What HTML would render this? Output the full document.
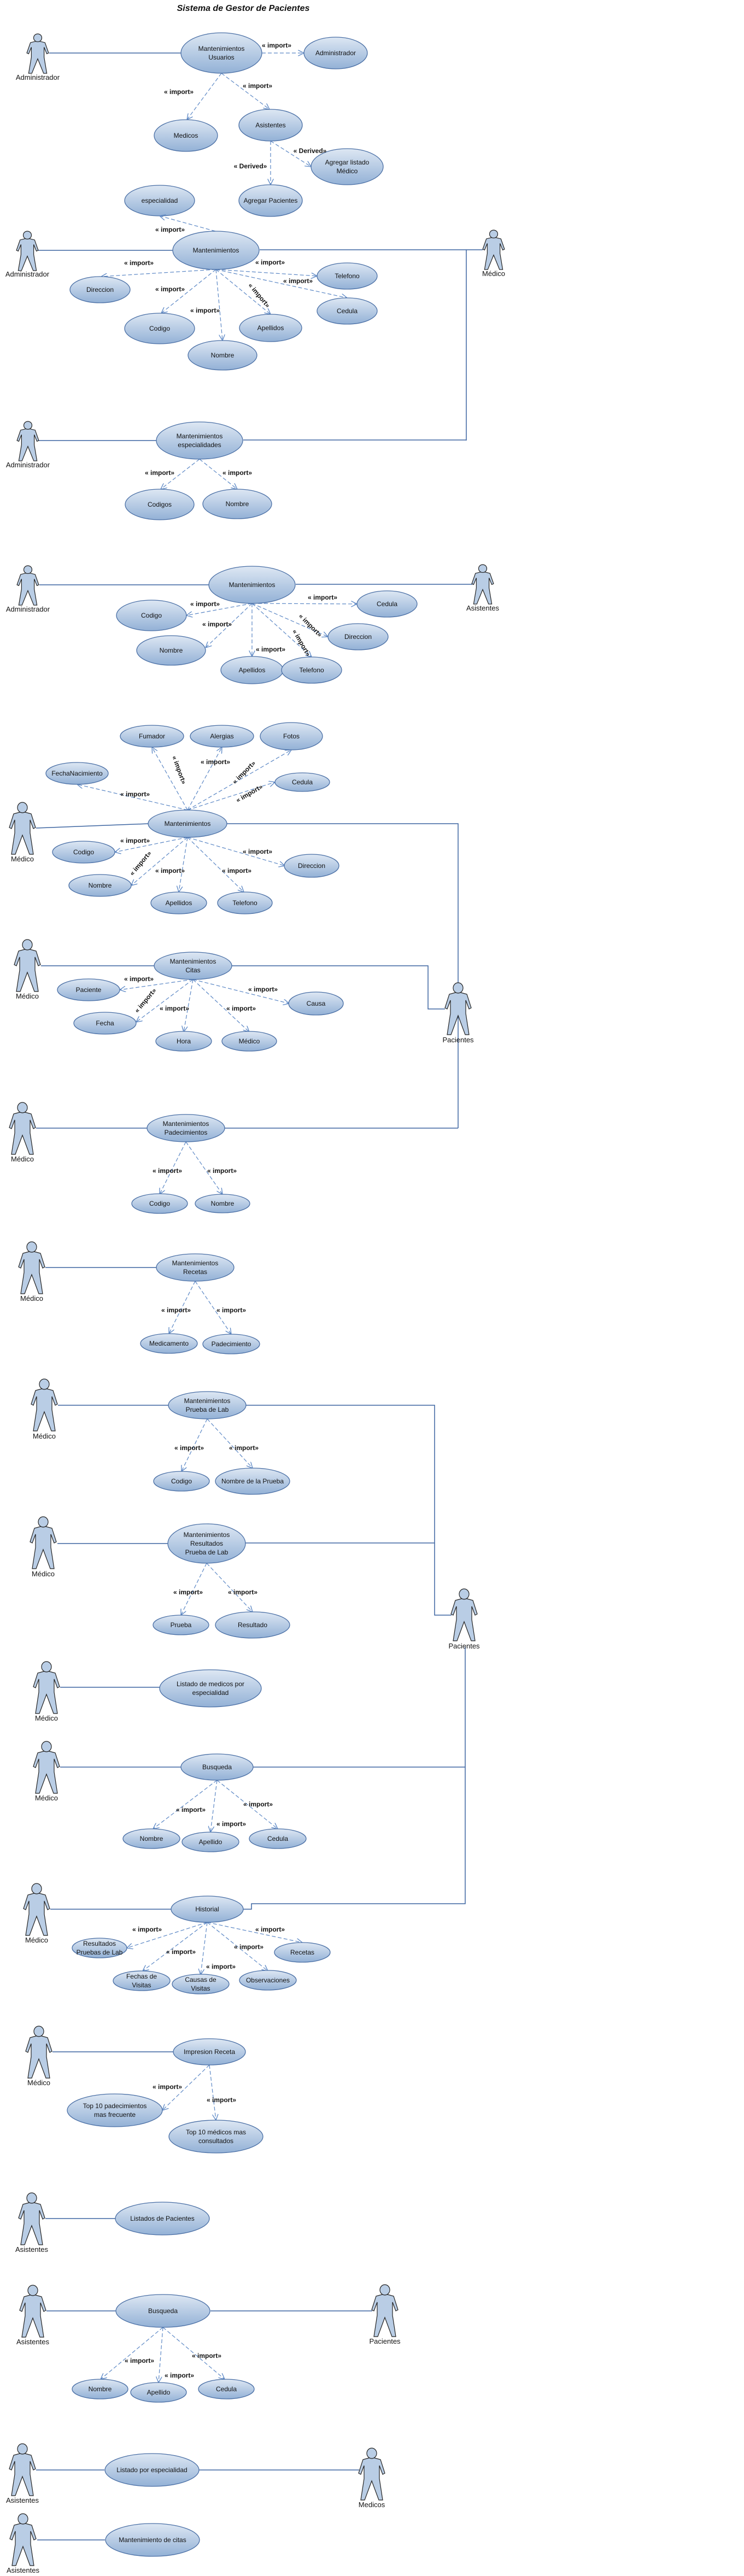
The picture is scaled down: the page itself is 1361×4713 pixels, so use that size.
<!DOCTYPE html>
<html><head><meta charset="utf-8"><style>
html,body{margin:0;padding:0;background:#fff;}
svg{display:block;}
.uc{fill:url(#g);stroke:#4a6fa5;stroke-width:1.3;}
.t{font-family:"Liberation Sans",Arial,sans-serif;font-size:12px;fill:#111;text-anchor:middle;}
.a{font-family:"Liberation Sans",Arial,sans-serif;font-size:13px;fill:#111;text-anchor:middle;}
.i{font-family:"Liberation Sans",Arial,sans-serif;font-size:12px;font-weight:bold;fill:#111;text-anchor:middle;}
.s{stroke:#3c64a0;stroke-width:1.5;fill:none;}
.d{stroke:#5b87c5;stroke-width:1.2;stroke-dasharray:7,4;fill:none;marker-end:url(#ar);}
</style></head><body>
<svg width="1361" height="4713" viewBox="0 0 1361 4713" xmlns="http://www.w3.org/2000/svg">
<defs>
<linearGradient id="g" x1="0" y1="0" x2="0" y2="1"><stop offset="0" stop-color="#dde7f3"/><stop offset="1" stop-color="#93b1d6"/></linearGradient>
<marker id="ar" viewBox="0 0 10 10" refX="10" refY="5" markerWidth="11" markerHeight="11" markerUnits="userSpaceOnUse" orient="auto"><path d="M0,0 L10,5 L0,10" fill="none" stroke="#5b87c5" stroke-width="1.2"/></marker>
<g id="act">
<polygon points="-5,18 5,18 16,21 24,46 20,48 14,32 14,56 20,95 13,95 0,60 -13,95 -20,95 -14,56 -14,32 -20,48 -24,46 -16,21" fill="#b9cde5" stroke="#222" stroke-width="1.2" vector-effect="non-scaling-stroke"/>
<ellipse cx="0" cy="9.5" rx="9" ry="9.5" fill="#b9cde5" stroke="#222" stroke-width="1.2" vector-effect="non-scaling-stroke"/>
</g>
</defs>

<text x="445" y="20" font-family="Liberation Sans, Arial, sans-serif" font-size="16" font-weight="bold" font-style="italic" text-anchor="middle" fill="#111">Sistema de Gestor de Pacientes</text>

<!-- S1 -->
<line class="s" x1="90" y1="97" x2="331" y2="97"/>
<use href="#act" transform="translate(69,62) scale(0.83,0.76)"/>
<text class="a" x="69" y="146">Administrador</text>
<path class="d" d="M479,97 L556,97"/><path class="d" d="M405,134 L342,219"/><path class="d" d="M405,134 L493,200"/><path class="d" d="M495,258 L495,338"/><path class="d" d="M495,258 L569,305"/>
<ellipse class="uc" cx="405" cy="97" rx="74" ry="37"/><text class="t" x="405" y="93">Mantenimientos</text><text class="t" x="405" y="109">Usuarios</text>
<ellipse class="uc" cx="614" cy="97" rx="58" ry="29"/><text class="t" x="614" y="101">Administrador</text>
<ellipse class="uc" cx="340" cy="248" rx="58" ry="29"/><text class="t" x="340" y="252">Medicos</text>
<ellipse class="uc" cx="495" cy="229" rx="58" ry="29"/><text class="t" x="495" y="233">Asistentes</text>
<ellipse class="uc" cx="635" cy="305" rx="66" ry="33"/><text class="t" x="635" y="301">Agregar listado</text><text class="t" x="635" y="317">Médico</text>
<ellipse class="uc" cx="495" cy="367" rx="58" ry="29"/><text class="t" x="495" y="371">Agregar Pacientes</text>
<ellipse class="uc" cx="292" cy="367" rx="64" ry="28"/><text class="t" x="292" y="371">especialidad</text>
<text class="i" x="506" y="87">« import»</text><text class="i" x="327" y="172">« import»</text><text class="i" x="471" y="161">« import»</text><text class="i" x="567" y="280">« Derived»</text><text class="i" x="458" y="308">« Derived»</text>

<!-- S2 -->
<line class="s" x1="70" y1="458" x2="316" y2="458"/>
<polyline class="s" points="475,457 883,457"/><line class="s" x1="853" y1="457" x2="853" y2="806"/>
<use href="#act" transform="translate(50,423) scale(0.83,0.76)"/><text class="a" x="50" y="506">Administrador</text>
<use href="#act" transform="translate(903,421) scale(0.83,0.76)"/><text class="a" x="903" y="505">Médico</text>
<path class="d" d="M394,423 L292,395"/>
<path class="d" d="M395,493 L185,506"/><path class="d" d="M395,493 L580,505"/><path class="d" d="M395,493 L635,545"/><path class="d" d="M395,493 L295,573"/><path class="d" d="M395,493 L495,575"/><path class="d" d="M395,493 L407,623"/>
<ellipse class="uc" cx="395" cy="458" rx="79" ry="35"/><text class="t" x="395" y="462">Mantenimientos</text>
<ellipse class="uc" cx="183" cy="530" rx="55" ry="24"/><text class="t" x="183" y="534">Direccion</text>
<ellipse class="uc" cx="635" cy="505" rx="55" ry="24"/><text class="t" x="635" y="509">Telefono</text>
<ellipse class="uc" cx="635" cy="569" rx="55" ry="24"/><text class="t" x="635" y="573">Cedula</text>
<ellipse class="uc" cx="292" cy="601" rx="64" ry="28"/><text class="t" x="292" y="605">Codigo</text>
<ellipse class="uc" cx="495" cy="600" rx="57" ry="25"/><text class="t" x="495" y="604">Apellidos</text>
<ellipse class="uc" cx="407" cy="650" rx="63" ry="27"/><text class="t" x="407" y="654">Nombre</text>
<text class="i" x="311" y="424">« import»</text><text class="i" x="254" y="485">« import»</text><text class="i" x="494" y="484">« import»</text><text class="i" x="545" y="518">« import»</text>
<text class="i" x="471" y="543" transform="rotate(50 471 543)">« import»</text><text class="i" x="311" y="533">« import»</text><text class="i" x="375" y="572">« import»</text>

<!-- S3 -->
<line class="s" x1="70" y1="806" x2="286" y2="806"/><line class="s" x1="445" y1="805" x2="853" y2="805"/>
<use href="#act" transform="translate(51,771) scale(0.83,0.76)"/><text class="a" x="51" y="855">Administrador</text>
<path class="d" d="M365,840 L294,895"/><path class="d" d="M365,840 L434,895"/>
<ellipse class="uc" cx="365" cy="806" rx="79" ry="34"/><text class="t" x="365" y="802">Mantenimientos</text><text class="t" x="365" y="818">especialidades</text>
<ellipse class="uc" cx="292" cy="923" rx="63" ry="28"/><text class="t" x="292" y="927">Codigos</text>
<ellipse class="uc" cx="434" cy="922" rx="63" ry="27"/><text class="t" x="434" y="926">Nombre</text>
<text class="i" x="292" y="869">« import»</text><text class="i" x="434" y="869">« import»</text>

<!-- S4 -->
<line class="s" x1="72" y1="1070" x2="382" y2="1070"/><line class="s" x1="541" y1="1069" x2="864" y2="1069"/>
<use href="#act" transform="translate(51,1035) scale(0.83,0.76)"/><text class="a" x="51" y="1119">Administrador</text>
<use href="#act" transform="translate(883,1033) scale(0.83,0.76)"/><text class="a" x="883" y="1117">Asistentes</text>
<path class="d" d="M461,1104 L653,1105"/><path class="d" d="M461,1104 L341,1126"/><path class="d" d="M461,1104 L376,1185"/><path class="d" d="M461,1104 L461,1201"/><path class="d" d="M461,1104 L570,1202"/><path class="d" d="M461,1104 L600,1165"/>
<ellipse class="uc" cx="461" cy="1070" rx="79" ry="34"/><text class="t" x="461" y="1074">Mantenimientos</text>
<ellipse class="uc" cx="708" cy="1105" rx="55" ry="24"/><text class="t" x="708" y="1109">Cedula</text>
<ellipse class="uc" cx="277" cy="1126" rx="64" ry="28"/><text class="t" x="277" y="1130">Codigo</text>
<ellipse class="uc" cx="655" cy="1165" rx="55" ry="24"/><text class="t" x="655" y="1169">Direccion</text>
<ellipse class="uc" cx="313" cy="1190" rx="63" ry="27"/><text class="t" x="313" y="1194">Nombre</text>
<ellipse class="uc" cx="461" cy="1226" rx="57" ry="25"/><text class="t" x="461" y="1230">Apellidos</text>
<ellipse class="uc" cx="570" cy="1226" rx="55" ry="24"/><text class="t" x="570" y="1230">Telefono</text>
<text class="i" x="590" y="1097">« import»</text><text class="i" x="375" y="1109">« import»</text><text class="i" x="397" y="1146">« import»</text>
<text class="i" x="565" y="1147" transform="rotate(45 565 1147)">« import»</text><text class="i" x="548" y="1178" transform="rotate(60 548 1178)">« import»</text><text class="i" x="495" y="1192">« import»</text>

<!-- S5 -->
<line class="s" x1="66" y1="1515" x2="272" y2="1507"/>
<polyline class="s" points="415,1507 838,1507 838,2064"/>
<use href="#act" transform="translate(41,1468)"/><text class="a" x="41" y="1576">Médico</text>
<path class="d" d="M343,1482 L278,1367"/><path class="d" d="M343,1482 L406,1367"/><path class="d" d="M343,1482 L533,1372"/><path class="d" d="M343,1482 L503,1431"/><path class="d" d="M343,1482 L141,1435"/>
<path class="d" d="M343,1532 L210,1559"/><path class="d" d="M343,1532 L240,1620"/><path class="d" d="M343,1532 L327,1632"/><path class="d" d="M343,1532 L446,1632"/><path class="d" d="M343,1532 L521,1584"/>
<ellipse class="uc" cx="343" cy="1507" rx="72" ry="25"/><text class="t" x="343" y="1511">Mantenimientos</text>
<ellipse class="uc" cx="278" cy="1347" rx="58" ry="20"/><text class="t" x="278" y="1351">Fumador</text>
<ellipse class="uc" cx="406" cy="1347" rx="58" ry="20"/><text class="t" x="406" y="1351">Alergias</text>
<ellipse class="uc" cx="533" cy="1347" rx="57" ry="25"/><text class="t" x="533" y="1351">Fotos</text>
<ellipse class="uc" cx="141" cy="1415" rx="57" ry="20"/><text class="t" x="141" y="1419">FechaNacimiento</text>
<ellipse class="uc" cx="553" cy="1431" rx="50" ry="17"/><text class="t" x="553" y="1435">Cedula</text>
<ellipse class="uc" cx="153" cy="1559" rx="57" ry="20"/><text class="t" x="153" y="1563">Codigo</text>
<ellipse class="uc" cx="570" cy="1584" rx="50" ry="21"/><text class="t" x="570" y="1588">Direccion</text>
<ellipse class="uc" cx="183" cy="1620" rx="57" ry="20"/><text class="t" x="183" y="1624">Nombre</text>
<ellipse class="uc" cx="327" cy="1652" rx="51" ry="20"/><text class="t" x="327" y="1656">Apellidos</text>
<ellipse class="uc" cx="448" cy="1652" rx="50" ry="20"/><text class="t" x="448" y="1656">Telefono</text>
<text class="i" x="324" y="1410" transform="rotate(70 324 1410)">« import»</text><text class="i" x="394" y="1398">« import»</text>
<text class="i" x="449" y="1416" transform="rotate(-45 449 1416)">« import»</text><text class="i" x="458" y="1455" transform="rotate(-30 458 1455)">« import»</text>
<text class="i" x="247" y="1457">« import»</text><text class="i" x="247" y="1542">« import»</text>
<text class="i" x="260" y="1582" transform="rotate(-50 260 1582)">« import»</text><text class="i" x="311" y="1597">« import»</text><text class="i" x="433" y="1597">« import»</text><text class="i" x="471" y="1562">« import»</text>

<!-- S6 -->
<line class="s" x1="75" y1="1767" x2="282" y2="1767"/>
<polyline class="s" points="424,1767 783,1767 783,1846 814,1846"/>
<use href="#act" transform="translate(50,1719)"/><text class="a" x="50" y="1827">Médico</text>
<use href="#act" transform="translate(838,1798)"/><text class="a" x="838" y="1907">Pacientes</text>
<path class="d" d="M353,1792 L219,1811"/><path class="d" d="M353,1792 L249,1870"/><path class="d" d="M353,1792 L336,1888"/><path class="d" d="M353,1792 L456,1888"/><path class="d" d="M353,1792 L529,1836"/>
<ellipse class="uc" cx="353" cy="1767" rx="71" ry="25"/><text class="t" x="353" y="1763">Mantenimientos</text><text class="t" x="353" y="1779">Citas</text>
<ellipse class="uc" cx="162" cy="1811" rx="57" ry="20"/><text class="t" x="162" y="1815">Paciente</text>
<ellipse class="uc" cx="578" cy="1836" rx="50" ry="21"/><text class="t" x="578" y="1840">Causa</text>
<ellipse class="uc" cx="192" cy="1872" rx="57" ry="20"/><text class="t" x="192" y="1876">Fecha</text>
<ellipse class="uc" cx="336" cy="1905" rx="51" ry="18"/><text class="t" x="336" y="1909">Hora</text>
<ellipse class="uc" cx="456" cy="1905" rx="50" ry="18"/><text class="t" x="456" y="1909">Médico</text>
<text class="i" x="254" y="1795">« import»</text><text class="i" x="481" y="1814">« import»</text>
<text class="i" x="269" y="1833" transform="rotate(-50 269 1833)">« import»</text><text class="i" x="319" y="1849">« import»</text><text class="i" x="441" y="1849">« import»</text>

<!-- S7 -->
<line class="s" x1="66" y1="2064" x2="269" y2="2064"/><line class="s" x1="411" y1="2064" x2="838" y2="2064"/>
<use href="#act" transform="translate(41,2017)"/><text class="a" x="41" y="2125">Médico</text>
<path class="d" d="M340,2089 L292,2185"/><path class="d" d="M340,2089 L407,2185"/>
<ellipse class="uc" cx="340" cy="2064" rx="71" ry="25"/><text class="t" x="340" y="2060">Mantenimientos</text><text class="t" x="340" y="2076">Padecimientos</text>
<ellipse class="uc" cx="292" cy="2202" rx="51" ry="18"/><text class="t" x="292" y="2206">Codigo</text>
<ellipse class="uc" cx="407" cy="2202" rx="50" ry="17"/><text class="t" x="407" y="2206">Nombre</text>
<text class="i" x="306" y="2146">« import»</text><text class="i" x="406" y="2146">« import»</text>

<!-- S8 -->
<line class="s" x1="83" y1="2319" x2="286" y2="2319"/>
<use href="#act" transform="translate(58,2272)"/><text class="a" x="58" y="2380">Médico</text>
<path class="d" d="M357,2344 L309,2440"/><path class="d" d="M357,2344 L423,2441"/>
<ellipse class="uc" cx="357" cy="2319" rx="71" ry="25"/><text class="t" x="357" y="2315">Mantenimientos</text><text class="t" x="357" y="2331">Recetas</text>
<ellipse class="uc" cx="309" cy="2458" rx="52" ry="18"/><text class="t" x="309" y="2462">Medicamento</text>
<ellipse class="uc" cx="423" cy="2459" rx="52" ry="18"/><text class="t" x="423" y="2463">Padecimiento</text>
<text class="i" x="322" y="2401">« import»</text><text class="i" x="423" y="2401">« import»</text>

<!-- S9 -->
<line class="s" x1="106" y1="2571" x2="308" y2="2571"/>
<polyline class="s" points="450,2571 795,2571 795,2955 826,2955"/>
<use href="#act" transform="translate(81,2523)"/><text class="a" x="81" y="2632">Médico</text>
<path class="d" d="M379,2596 L332,2692"/><path class="d" d="M379,2596 L462,2686"/>
<ellipse class="uc" cx="379" cy="2571" rx="71" ry="25"/><text class="t" x="379" y="2567">Mantenimientos</text><text class="t" x="379" y="2583">Prueba de Lab</text>
<ellipse class="uc" cx="332" cy="2710" rx="51" ry="18"/><text class="t" x="332" y="2714">Codigo</text>
<ellipse class="uc" cx="462" cy="2710" rx="68" ry="24"/><text class="t" x="462" y="2714">Nombre de la Prueba</text>
<text class="i" x="346" y="2653">« import»</text><text class="i" x="446" y="2653">« import»</text>

<!-- S10 -->
<line class="s" x1="105" y1="2824" x2="308" y2="2824"/><line class="s" x1="449" y1="2823" x2="795" y2="2823"/>
<polyline class="s" points="851,3013 851,3483 460,3483 460,3493 444,3493"/>
<line class="s" x1="851" y1="3233" x2="463" y2="3233"/>
<use href="#act" transform="translate(79,2775)"/><text class="a" x="79" y="2884">Médico</text>
<use href="#act" transform="translate(849,2907)"/><text class="a" x="849" y="3016">Pacientes</text>
<path class="d" d="M378,2860 L331,2955"/><path class="d" d="M378,2860 L462,2949"/>
<ellipse class="uc" cx="378" cy="2824" rx="71" ry="36"/><text class="t" x="378" y="2812">Mantenimientos</text><text class="t" x="378" y="2828">Resultados</text><text class="t" x="378" y="2844">Prueba de Lab</text>
<ellipse class="uc" cx="331" cy="2973" rx="51" ry="18"/><text class="t" x="331" y="2977">Prueba</text>
<ellipse class="uc" cx="462" cy="2973" rx="68" ry="24"/><text class="t" x="462" y="2977">Resultado</text>
<text class="i" x="344" y="2917">« import»</text><text class="i" x="444" y="2917">« import»</text>

<!-- S11 -->
<line class="s" x1="110" y1="3087" x2="292" y2="3087"/>
<use href="#act" transform="translate(85,3040)"/><text class="a" x="85" y="3148">Médico</text>
<ellipse class="uc" cx="385" cy="3089" rx="93" ry="34"/><text class="t" x="385" y="3085">Listado de medicos por</text><text class="t" x="385" y="3101">especialidad</text>

<!-- S12 -->
<line class="s" x1="110" y1="3233" x2="331" y2="3233"/>
<use href="#act" transform="translate(85,3186)"/><text class="a" x="85" y="3294">Médico</text>
<path class="d" d="M397,3257 L280,3346"/><path class="d" d="M397,3257 L385,3352"/><path class="d" d="M397,3257 L508,3346"/>
<ellipse class="uc" cx="397" cy="3233" rx="66" ry="24"/><text class="t" x="397" y="3237">Busqueda</text>
<ellipse class="uc" cx="277" cy="3364" rx="52" ry="18"/><text class="t" x="277" y="3368">Nombre</text>
<ellipse class="uc" cx="385" cy="3370" rx="52" ry="18"/><text class="t" x="385" y="3374">Apellido</text>
<ellipse class="uc" cx="508" cy="3364" rx="52" ry="18"/><text class="t" x="508" y="3368">Cedula</text>
<text class="i" x="349" y="3315">« import»</text><text class="i" x="423" y="3341">« import»</text><text class="i" x="472" y="3305">« import»</text>

<!-- S13 -->
<line class="s" x1="92" y1="3493" x2="313" y2="3493"/>
<use href="#act" transform="translate(67,3446)"/><text class="a" x="67" y="3554">Médico</text>
<path class="d" d="M379,3517 L232,3564"/><path class="d" d="M379,3517 L553,3554"/><path class="d" d="M379,3517 L261,3606"/><path class="d" d="M379,3517 L367,3613"/><path class="d" d="M379,3517 L490,3606"/>
<ellipse class="uc" cx="379" cy="3493" rx="66" ry="24"/><text class="t" x="379" y="3497">Historial</text>
<ellipse class="uc" cx="182" cy="3564" rx="50" ry="18"/><text class="t" x="182" y="3560">Resultados</text><text class="t" x="182" y="3576">Pruebas de Lab</text>
<ellipse class="uc" cx="553" cy="3572" rx="51" ry="18"/><text class="t" x="553" y="3576">Recetas</text>
<ellipse class="uc" cx="259" cy="3624" rx="52" ry="18"/><text class="t" x="259" y="3620">Fechas de</text><text class="t" x="259" y="3636">Visitas</text>
<ellipse class="uc" cx="367" cy="3630" rx="52" ry="18"/><text class="t" x="367" y="3626">Causas de</text><text class="t" x="367" y="3642">Visitas</text>
<ellipse class="uc" cx="490" cy="3623" rx="52" ry="18"/><text class="t" x="490" y="3627">Observaciones</text>
<text class="i" x="269" y="3534">« import»</text><text class="i" x="494" y="3534">« import»</text><text class="i" x="331" y="3575">« import»</text><text class="i" x="455" y="3566">« import»</text><text class="i" x="404" y="3602">« import»</text>

<!-- S14 -->
<line class="s" x1="96" y1="3754" x2="317" y2="3754"/>
<use href="#act" transform="translate(71,3707)"/><text class="a" x="71" y="3815">Médico</text>
<path class="d" d="M383,3778 L297,3861"/><path class="d" d="M383,3778 L395,3879"/>
<ellipse class="uc" cx="383" cy="3754" rx="66" ry="24"/><text class="t" x="383" y="3758">Impresion Receta</text>
<ellipse class="uc" cx="210" cy="3861" rx="87" ry="30"/><text class="t" x="210" y="3857">Top 10 padecimientos</text><text class="t" x="210" y="3873">mas frecuente</text>
<ellipse class="uc" cx="395" cy="3909" rx="86" ry="30"/><text class="t" x="395" y="3905">Top 10 médicos mas</text><text class="t" x="395" y="3921">consultados</text>
<text class="i" x="306" y="3822">« import»</text><text class="i" x="405" y="3846">« import»</text>

<!-- S15 -->
<line class="s" x1="83" y1="4059" x2="211" y2="4059"/>
<use href="#act" transform="translate(58,4012)"/><text class="a" x="58" y="4120">Asistentes</text>
<ellipse class="uc" cx="297" cy="4059" rx="86" ry="30"/><text class="t" x="297" y="4063">Listados de Pacientes</text>

<!-- S16 -->
<line class="s" x1="85" y1="4228" x2="212" y2="4228"/><line class="s" x1="385" y1="4228" x2="681" y2="4228"/>
<use href="#act" transform="translate(60,4181)"/><text class="a" x="60" y="4289">Asistentes</text>
<use href="#act" transform="translate(704,4180)"/><text class="a" x="704" y="4288">Pacientes</text>
<path class="d" d="M298,4258 L184,4353"/><path class="d" d="M298,4258 L290,4359"/><path class="d" d="M298,4258 L411,4353"/>
<ellipse class="uc" cx="298" cy="4228" rx="86" ry="30"/><text class="t" x="298" y="4232">Busqueda</text>
<ellipse class="uc" cx="183" cy="4371" rx="51" ry="18"/><text class="t" x="183" y="4375">Nombre</text>
<ellipse class="uc" cx="290" cy="4377" rx="51" ry="18"/><text class="t" x="290" y="4381">Apellido</text>
<ellipse class="uc" cx="414" cy="4371" rx="51" ry="18"/><text class="t" x="414" y="4375">Cedula</text>
<text class="i" x="255" y="4323">« import»</text><text class="i" x="328" y="4350">« import»</text><text class="i" x="378" y="4314">« import»</text>

<!-- S17 -->
<line class="s" x1="66" y1="4519" x2="191" y2="4519"/><line class="s" x1="364" y1="4519" x2="657" y2="4519"/>
<use href="#act" transform="translate(41,4471)"/><text class="a" x="41" y="4579">Asistentes</text>
<use href="#act" transform="translate(680,4479)"/><text class="a" x="680" y="4587">Medicos</text>
<ellipse class="uc" cx="278" cy="4519" rx="86" ry="30"/><text class="t" x="278" y="4523">Listado por especialidad</text>

<!-- S18 -->
<line class="s" x1="68" y1="4647" x2="192" y2="4647"/>
<use href="#act" transform="translate(42,4599)"/><text class="a" x="42" y="4707">Asistentes</text>
<ellipse class="uc" cx="279" cy="4647" rx="86" ry="30"/><text class="t" x="279" y="4651">Mantenimiento de citas</text>
</svg>
</body></html>
